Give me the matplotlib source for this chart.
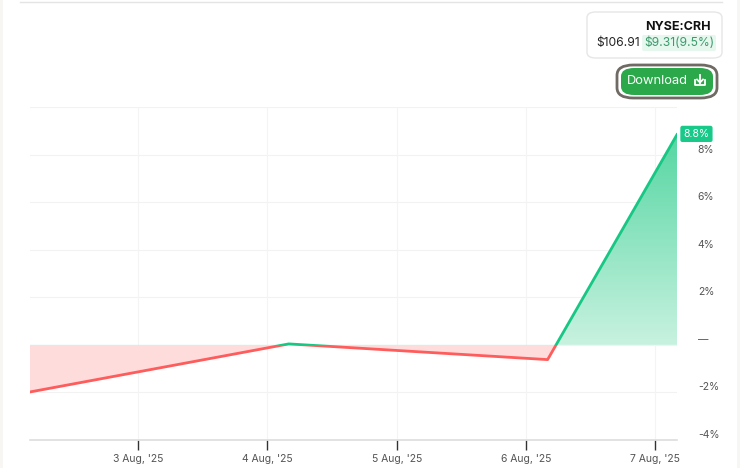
import numpy as np
import matplotlib
matplotlib.use("Agg")
import matplotlib.pyplot as plt
import matplotlib.dates as mdates
from matplotlib.patches import FancyBboxPatch, Rectangle, Polygon
from matplotlib.colors import LinearSegmentedColormap
from datetime import datetime

plt.rcParams['font.family'] = ['Inter', 'DejaVu Sans']

# data: % change vs first close
dates = [datetime(2025, 8, 2, 4), datetime(2025, 8, 4, 4),
         datetime(2025, 8, 6, 4), datetime(2025, 8, 7, 4)]
pct = [-1.98, 0.04, -0.62, 8.84]
tick_dates = [datetime(2025, 8, d) for d in range(3, 8)]
tick_labels = ["3 Aug, '25", "4 Aug, '25", "5 Aug, '25", "6 Aug, '25", "7 Aug, '25"]
y_ticks = [-4, -2, 0, 2, 4, 6, 8]
y_labels = ["-4%", "-2%", "\u2014", "2%", "4%", "6%", "8%"]
ticker = "NYSE:CRH"
price = "$106.91"
change = "$9.31(9.5%)"

GREEN = "#17c784"
RED = "#ff5c5c"

W, H = 740, 468
fig = plt.figure(figsize=(W / 100, H / 100), dpi=100)
fig.patch.set_facecolor("white")


def px(x, y):
    return x / W, 1 - y / H


ax = fig.add_axes([30 / W, 1 - 440 / H, (677 - 30) / W, (440 - 107) / H])
x = mdates.date2num(dates)
y = np.array(pct)
ax.set_xlim(x[0], x[-1])
ax.set_ylim(-4, 10)

# fills
verts = [(x[0], 0)] + list(zip(x, y)) + [(x[-1], 0)]
below = Rectangle((x[0], -4), x[-1] - x[0], 4, transform=ax.transData, visible=False)
above = Rectangle((x[0], 0), x[-1] - x[0], 10, transform=ax.transData, visible=False)
ax.add_patch(below)
ax.add_patch(above)
red_poly = Polygon(verts, closed=True, facecolor="#ffdcdc", edgecolor="none", zorder=1)
ax.add_patch(red_poly)
red_poly.set_clip_path(below)

green_poly = Polygon(verts, closed=True, facecolor="none", edgecolor="none")
ax.add_patch(green_poly)
cmap = LinearSegmentedColormap.from_list("g", ["#c8f2e0", "#55d6a2"])
grad = np.linspace(0, 1, 256).reshape(-1, 1)
img = ax.imshow(grad, cmap=cmap, origin="lower", aspect="auto",
                extent=[x[0], x[-1], 0, max(pct)], zorder=1)
img.set_clip_path(green_poly)

# line, red below zero, green above
l1, = ax.plot(x, y, color=RED, lw=2, zorder=3)
l1.set_clip_path(below)
l2, = ax.plot(x, y, color=GREEN, lw=2, zorder=3)
l2.set_clip_path(above)

# grid
for yy in range(-2, 11, 2):
    ax.axhline(yy, color="#f2f2f2", lw=0.8, zorder=0)
for td in mdates.date2num(tick_dates):
    ax.axvline(td, color="#f4f4f4", lw=0.8, zorder=0)

for s in ["top", "right", "left"]:
    ax.spines[s].set_visible(False)
ax.spines["bottom"].set_color("#dddddd")
ax.spines["bottom"].set_linewidth(1.2)

ax.set_xticks(mdates.date2num(tick_dates))
ax.set_xticklabels(tick_labels)
ax.tick_params(axis="x", length=7, width=1, color="#333333", labelsize=7.5,
               labelcolor="#555555", pad=3)

ax.yaxis.tick_right()
ax.set_yticks(y_ticks)
ax.set_yticklabels(y_labels)
ax.tick_params(axis="y", length=0, labelsize=7.5, labelcolor="#555555", pad=15)
for lab in ax.get_yticklabels():
    lab.set_verticalalignment("bottom")

# last value badge
ax.annotate(f"{pct[-1]:.1f}%", (x[-1], y[-1]), xytext=(14, 0.5), textcoords="offset points",
            ha="center", va="center", color="white", fontsize=7.5,
            bbox=dict(boxstyle="round,pad=0.3,rounding_size=0.2", fc="#19c98a", ec="none"),
            annotation_clip=False)

# frame bits
fig.patches.append(Rectangle((0, 0), 3 / W, 1, transform=fig.transFigure, fc="#f7f6f3", ec="none"))
fig.patches.append(Rectangle((737 / W, 0), 3 / W, 1, transform=fig.transFigure, fc="#f7f6f3", ec="none"))
fig.lines.append(plt.Line2D([20 / W, 722 / W], [1 - 1.5 / H] * 2, transform=fig.transFigure,
                            color="#e4e4e4", lw=1))

# info box
x0, y0 = px(587, 58)
fig.patches.append(FancyBboxPatch((x0, y0), 135 / W, 46 / H, transform=fig.transFigure,
                                  boxstyle="round,pad=0,rounding_size=0.012",
                                  fc="white", ec="#e6e6e6", lw=1))
fig.text(*px(711, 27), ticker, ha="right", va="center", fontsize=9, fontweight="bold",
         color="#111111")
fig.text(*px(596, 43), price, ha="left", va="center", fontsize=8.7, color="#222222")
fig.text(*px(644, 43), change, ha="left", va="center", fontsize=8.7, color="#3d9a6c",
         bbox=dict(boxstyle="round,pad=0.15", fc="#e6f7ee", ec="none"))

# download button
bx, by = px(617, 98)
fig.patches.append(FancyBboxPatch((bx, by), 100 / W, 33 / H, transform=fig.transFigure,
                                  boxstyle="round,pad=0,rounding_size=0.022",
                                  fc="white", ec="#6f6a63", lw=2))
gx, gy = px(621, 95)
fig.patches.append(FancyBboxPatch((gx, gy), 92 / W, 27 / H, transform=fig.transFigure,
                                  boxstyle="round,pad=0,rounding_size=0.018",
                                  fc="#2aa84a", ec="none"))
fig.text(*px(657, 81), "Download", ha="center", va="center", fontsize=9.3, color="white")
# icon
ix = 700
for xs, ys in [([ix - 5, ix - 5, ix + 5, ix + 5], [80, 85, 85, 80]),
               ([ix, ix], [75, 82.5]),
               ([ix - 3, ix, ix + 3], [79.5, 82.5, 79.5])]:
    fig.lines.append(plt.Line2D([v / W for v in xs], [1 - v / H for v in ys],
                                transform=fig.transFigure, color="white", lw=1.3))

fig.savefig("out.png", dpi=100)
